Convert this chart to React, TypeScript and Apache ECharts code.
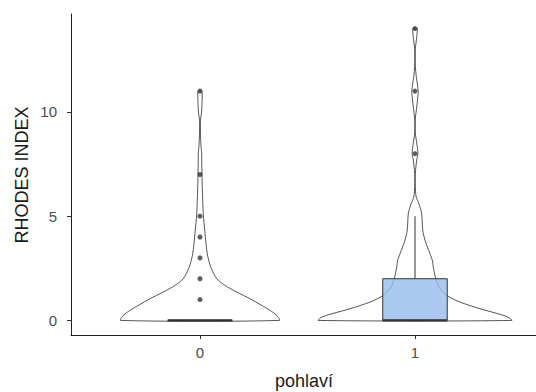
import React, { useEffect, useRef } from "react";
import * as echarts from "echarts";

// categories of "pohlaví"
const categories = ["0", "1"];

// violin density outlines: [value, relative half-width] (1 = widest violin)
const violin0: number[][] = [
  [0, 0.82], [0.24, 0.793], [0.48, 0.724], [0.72, 0.638], [1.04, 0.517],
  [1.36, 0.38], [1.68, 0.259], [2.0, 0.173], [2.56, 0.111], [3.2, 0.075],
  [4.17, 0.052], [5.1, 0.034], [5.77, 0.028], [6.73, 0.021], [7.0, 0.021],
  [7.5, 0.018], [8.0, 0.018], [8.4, 0.01], [9.0, 0.005], [9.6, 0.005],
  [10.0, 0.016], [10.5, 0.021], [11.0, 0.019],
];
const violin1: number[][] = [
  [0, 1.0], [0.16, 0.962], [0.32, 0.858], [0.56, 0.672], [0.88, 0.465],
  [1.2, 0.328], [1.6, 0.248], [2.0, 0.214], [2.56, 0.189], [2.88, 0.179],
  [3.2, 0.155], [3.85, 0.103], [4.33, 0.08], [5.13, 0.069], [5.6, 0.04],
  [5.93, 0.012], [6.41, 0.003], [7.05, 0.003], [7.7, 0.018], [8.0, 0.03],
  [8.5, 0.018], [9.0, 0.003], [9.6, 0.002], [10.26, 0.018], [11.0, 0.033],
  [11.7, 0.013], [12.3, 0.002], [13.0, 0.003], [13.6, 0.018], [13.9, 0.024],
  [14.0, 0.024],
];
const violins = [violin0, violin1];

// box statistics per category
const boxLow = [0, 0];
const boxQ1 = [0, 0];
const boxMedian = [0, 0];
const boxQ3 = [0, 2];
const boxHigh = [0, 5];

// outliers per category
const outliers0 = [1, 2, 3, 4, 5, 7, 11];
const outliers1 = [8, 11, 14];

// axis ticks
const yTicks = [0, 5, 10];
const xTicks = [0, 1];

const VIOLIN_HALF = 0.45;
const BOX_HALF = 0.15;
const INK = "#333333";
const FONT = "Liberation Sans, Arial, sans-serif";

export default function App() {
  const ref = useRef<HTMLDivElement>(null);

  useEffect(() => {
    if (!ref.current) return;
    const chart = echarts.init(ref.current, undefined, { renderer: "svg" });

    const violinData = categories.map((_, i) => [i, 0]);
    const boxData = categories.map((_, i) => [i, boxMedian[i]]);
    const outlierData = [
      ...outliers0.map((v) => [0, v]),
      ...outliers1.map((v) => [1, v]),
    ];

    chart.setOption({
      animation: false,
      grid: { left: 71, right: 0, top: 14, bottom: 57 },
      xAxis: {
        type: "value",
        min: -0.6,
        max: 1.5628,
        splitLine: { show: false },
        axisLine: { show: true, onZero: false, lineStyle: { color: "#222", width: 1 } },
        axisTick: {
          show: true,
          customValues: xTicks,
          length: 4,
          lineStyle: { color: INK, width: 1 },
        },
        axisLabel: {
          customValues: xTicks,
          formatter: (v: number) => categories[Math.round(v)] ?? "",
          color: "#4d4d4d",
          fontSize: 15,
          fontFamily: FONT,
          margin: 10,
        },
      },
      yAxis: {
        type: "value",
        min: -0.7,
        max: 14.7,
        splitLine: { show: false },
        axisLine: { show: true, onZero: false, lineStyle: { color: "#222", width: 1 } },
        axisTick: {
          show: true,
          customValues: yTicks,
          length: 4,
          lineStyle: { color: INK, width: 1 },
        },
        axisLabel: {
          customValues: yTicks,
          color: "#4d4d4d",
          fontSize: 15,
          fontFamily: FONT,
          margin: 14,
        },
      },
      graphic: [
        {
          type: "text",
          x: 22,
          y: 175,
          rotation: Math.PI / 2,
          style: {
            text: "RHODES INDEX",
            fontSize: 18,
            fontFamily: FONT,
            fill: "#1a1a1a",
            align: "center",
            verticalAlign: "middle",
          },
        },
        {
          type: "text",
          x: 304,
          y: 381,
          style: {
            text: "pohlaví",
            fontSize: 18,
            fontFamily: FONT,
            fill: "#1a1a1a",
            align: "center",
            verticalAlign: "middle",
          },
        },
      ],
      series: [
        {
          type: "custom",
          name: "violin",
          data: violinData,
          encode: { x: 0, y: 1 },
          renderItem: (params: any, api: any) => {
            const i = params.dataIndex;
            const prof = violins[i];
            const left = prof.map((p) => api.coord([i - p[1] * VIOLIN_HALF, p[0]]));
            const right = prof
              .slice()
              .reverse()
              .map((p) => api.coord([i + p[1] * VIOLIN_HALF, p[0]]));
            return {
              type: "polygon",
              shape: { points: [...left, ...right], smooth: 0.25 },
              style: { fill: "#ffffff", stroke: "#2a2a2a", lineWidth: 0.8 },
            };
          },
          z: 1,
        },
        {
          type: "custom",
          name: "box",
          data: boxData,
          encode: { x: 0, y: 1 },
          renderItem: (params: any, api: any) => {
            const i = params.dataIndex;
            const tl = api.coord([i - BOX_HALF, boxQ3[i]]);
            const br = api.coord([i + BOX_HALF, boxQ1[i]]);
            const mL = api.coord([i - BOX_HALF, boxMedian[i]]);
            const mR = api.coord([i + BOX_HALF, boxMedian[i]]);
            const wTop = api.coord([i, boxHigh[i]]);
            const wQ3 = api.coord([i, boxQ3[i]]);
            const wLow = api.coord([i, boxLow[i]]);
            const wQ1 = api.coord([i, boxQ1[i]]);
            return {
              type: "group",
              children: [
                {
                  type: "line",
                  shape: { x1: wQ3[0], y1: wQ3[1], x2: wTop[0], y2: wTop[1] },
                  style: { stroke: INK, lineWidth: 1 },
                },
                {
                  type: "line",
                  shape: { x1: wQ1[0], y1: wQ1[1], x2: wLow[0], y2: wLow[1] },
                  style: { stroke: INK, lineWidth: 1 },
                },
                {
                  type: "rect",
                  shape: { x: tl[0], y: tl[1], width: br[0] - tl[0], height: br[1] - tl[1] },
                  style: { fill: "rgba(150,188,238,0.8)", stroke: INK, lineWidth: 1 },
                },
                {
                  type: "line",
                  shape: { x1: mL[0], y1: mL[1], x2: mR[0], y2: mR[1] },
                  style: { stroke: INK, lineWidth: 2.4 },
                },
              ],
            };
          },
          z: 2,
        },
        {
          type: "scatter",
          name: "outliers",
          data: outlierData,
          symbol: "circle",
          symbolSize: 5,
          itemStyle: { color: INK },
          z: 3,
        },
      ],
    });

    return () => chart.dispose();
  }, []);

  return (
    <div
      ref={ref}
      style={{ position: "fixed", left: 0, top: 0, width: 536, height: 392, background: "#fff" }}
    />
  );
}
